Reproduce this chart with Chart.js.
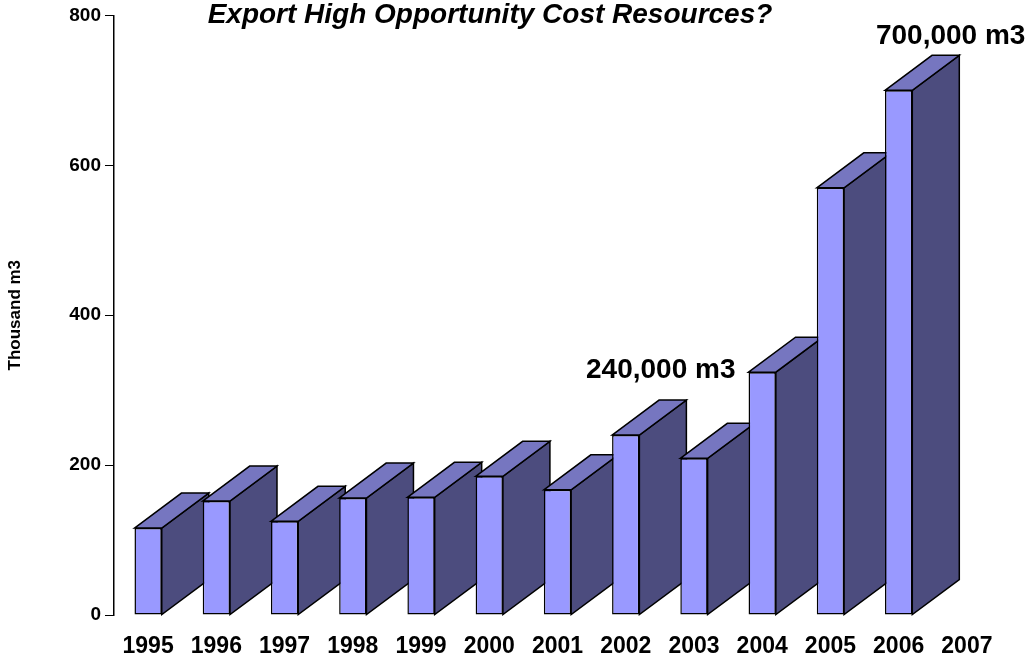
<!DOCTYPE html>
<html>
<head>
<meta charset="utf-8">
<script src="https://cdn.jsdelivr.net/npm/chart.js@4"></script>
<style>
  html, body { margin: 0; padding: 0; background: #fff; }
  #wrap { width: 1028px; height: 656px; position: relative; }
</style>
</head>
<body>
<div id="wrap"><canvas id="c"></canvas></div>
<script>
const years = ['1995','1996','1997','1998','1999','2000','2001','2002','2003','2004','2005','2006','2007'];
const exportsThousandM3 = [116, 152, 125, 156, 157, 185, 167, 240, 209, 324, 570, 700, null];
const yTicks = [0, 200, 400, 600, 800];
const chartTitle = 'Export High Opportunity Cost Resources?';
const yTitle = 'Thousand m3';
const calloutTexts = ['240,000 m3', '700,000 m3'];
const calloutYears = ['2002', '2006'];

const FONT = '"Liberation Sans", Arial, Helvetica, sans-serif';
const DX = 47, DY = 35;

const depthPlugin = {
  id: 'depth3d',
  beforeDatasetsDraw(chart) {
    const ctx = chart.ctx;
    const meta = chart.getDatasetMeta(0);
    ctx.save();
    ctx.lineWidth = 1.5;
    ctx.strokeStyle = '#000';
    ctx.lineJoin = 'miter';
    meta.data.forEach((bar, i) => {
      if (exportsThousandM3[i] == null) return;
      const p = bar.getProps(['x', 'y', 'base', 'width'], true);
      const l = p.x - p.width / 2, r = p.x + p.width / 2;
      ctx.beginPath();
      ctx.moveTo(r, p.y);
      ctx.lineTo(r + DX, p.y - DY);
      ctx.lineTo(r + DX, p.base - DY);
      ctx.lineTo(r, p.base);
      ctx.closePath();
      ctx.fillStyle = '#4C4C7E';
      ctx.fill();
      ctx.stroke();
      ctx.beginPath();
      ctx.moveTo(l, p.y);
      ctx.lineTo(l + DX, p.y - DY);
      ctx.lineTo(r + DX, p.y - DY);
      ctx.lineTo(r, p.y);
      ctx.closePath();
      ctx.fillStyle = '#7676C0';
      ctx.fill();
      ctx.stroke();
    });
    ctx.restore();
  },
  afterDraw(chart) {
    const ctx = chart.ctx;
    const xs = chart.scales.x, ys = chart.scales.y;
    ctx.save();
    ctx.fillStyle = '#000';
    ctx.textAlign = 'center';
    ctx.textBaseline = 'alphabetic';
    ctx.font = 'italic bold 28px ' + FONT;
    ctx.fillText(chartTitle, 490, 23);
    ctx.font = 'bold 28px ' + FONT;
    const offs = [[35, -57], [52, -46]];
    calloutTexts.forEach((t, k) => {
      const idx = years.indexOf(calloutYears[k]);
      const x = xs.getPixelForValue(idx) + offs[k][0];
      const y = ys.getPixelForValue(exportsThousandM3[idx]) + offs[k][1];
      ctx.fillText(t, x, y);
    });
    ctx.restore();
  }
};

new Chart(document.getElementById('c'), {
  type: 'bar',
  data: {
    labels: years,
    datasets: [{
      data: exportsThousandM3,
      backgroundColor: '#9999FF',
      borderColor: '#000',
      borderWidth: 1.5,
      borderSkipped: false,
      categoryPercentage: 1,
      barPercentage: 0.4
    }]
  },
  options: {
    responsive: true,
    maintainAspectRatio: false,
    animation: false,
    layout: { padding: { top: 13, right: 27, left: 0, bottom: 0 } },
    plugins: { legend: { display: false }, tooltip: { enabled: false }, title: { display: false } },
    scales: {
      x: {
        offset: true,
        grid: { display: false },
        border: { display: false },
        ticks: { color: '#000', font: { family: FONT, size: 23, weight: 'bold' }, padding: 10, maxRotation: 0, autoSkip: false },
        afterFit(s) { s.height = 41; }
      },
      y: {
        min: 0, max: 800,
        afterBuildTicks(s) { s.ticks = yTicks.map(v => ({ value: v })); },
        grid: { drawOnChartArea: false, drawTicks: true, tickLength: 9, color: '#000', lineWidth: 1 },
        border: { display: true, color: '#000', width: 1.5 },
        ticks: { color: '#000', font: { family: FONT, size: 19, weight: 'bold' }, padding: 4 },
        title: { display: true, text: yTitle, color: '#000', font: { family: FONT, size: 17, weight: 'bold' }, padding: { top: 5, bottom: 0 } },
        afterFit(s) { s.width = 114; }
      }
    }
  },
  plugins: [depthPlugin]
});
</script>
</body>
</html>
